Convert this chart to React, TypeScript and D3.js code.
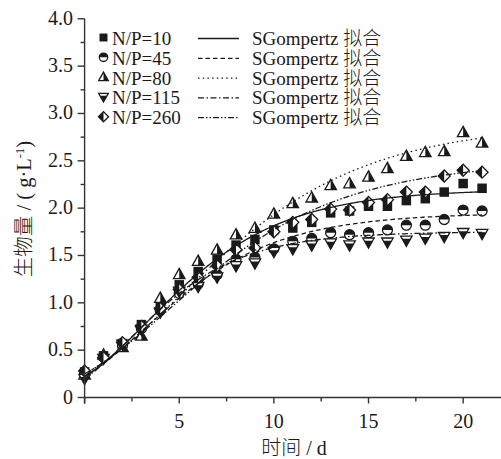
import React from 'react';
import * as d3 from 'd3';

// Sampling days
const days = [0, 1, 2, 3, 4, 5, 6, 7, 8, 9, 10, 11, 12, 13, 14, 15, 16, 17, 18, 19, 20, 21];

// Biomass (g/L) per N/P ratio
const np10 = [0.27, 0.44, 0.57, 0.77, 0.95, 1.19, 1.33, 1.46, 1.61, 1.67, 1.77, 1.79, 1.85, 1.95, 1.97, 2.02, 2.02, 2.08, 2.10, 2.17, 2.26, 2.21];
const np45 = [0.25, 0.43, 0.55, 0.73, 0.92, 1.10, 1.20, 1.30, 1.46, 1.48, 1.57, 1.65, 1.68, 1.74, 1.72, 1.74, 1.77, 1.82, 1.82, 1.88, 1.98, 1.97];
const np80 = [0.24, 0.45, 0.53, 0.65, 1.05, 1.30, 1.44, 1.56, 1.72, 1.79, 1.94, 2.05, 2.11, 2.24, 2.26, 2.33, 2.42, 2.55, 2.59, 2.60, 2.80, 2.69];
const np115 = [0.20, 0.41, 0.56, 0.72, 0.90, 1.12, 1.17, 1.27, 1.39, 1.42, 1.54, 1.57, 1.61, 1.63, 1.61, 1.64, 1.64, 1.66, 1.68, 1.70, 1.74, 1.73];
const np260 = [0.28, 0.42, 0.58, 0.75, 0.94, 1.14, 1.27, 1.39, 1.56, 1.58, 1.75, 1.85, 1.88, 1.99, 1.98, 2.06, 2.09, 2.17, 2.17, 2.34, 2.40, 2.38];

const seriesNames = ['N/P=10', 'N/P=45', 'N/P=80', 'N/P=115', 'N/P=260'];
const seriesValues = [np10, np45, np80, np115, np260];
const markerTypes = ['square', 'circleTop', 'triUp', 'triDown', 'diamond'];
const dashes = ['none', '4.5,3', '1.5,3.2', '6,2.5,1.5,2.5', '6,2,1.5,2,1.5,2'];

// SGompertz fit parameters: y = a * exp(-exp(-k * (x - xc)))
const fitA = [2.2, 1.95, 2.9, 1.75, 2.5];
const fitXc = [3.36, 3.1, 4.99, 2.51, 4.39];
const fitK = [0.248, 0.252, 0.18, 0.308, 0.19];
const fitLabel = 'SGompertz 拟合';

const yTicks = [0, 0.5, 1.0, 1.5, 2.0, 2.5, 3.0, 3.5, 4.0];
const yTickLabels = ['0', '0.5', '1.0', '1.5', '2.0', '2.5', '3.0', '3.5', '4.0'];
const yMinor = [0.25, 0.75, 1.25, 1.75, 2.25, 2.75, 3.25, 3.75];
const xTicks = [0, 5, 10, 15, 20];
const xTickLabels = ['', '5', '10', '15', '20'];
const xMinor = [2.5, 7.5, 12.5, 17.5];

const W = 501;
const H = 459;
const serif = '"Liberation Serif", "Times New Roman", "Noto Sans CJK SC", serif';
const ink = '#1a1a1a';

function Marker({ type, x, y, s }: { type: string; x: number; y: number; s: number }) {
  const sw = 1.3;
  switch (type) {
    case 'square':
      return <rect x={x - s * 0.95} y={y - s * 0.95} width={s * 1.9} height={s * 1.9} fill={ink} />;
    case 'circleTop':
      return (
        <g transform={`translate(${x},${y})`}>
          <circle r={s} fill="#fff" stroke={ink} strokeWidth={sw} />
          <path d={`M${-s},0 A${s},${s} 0 0 1 ${s},0 Z`} fill={ink} />
        </g>
      );
    case 'triUp':
      return (
        <g transform={`translate(${x},${y})`}>
          <polygon points={`0,${-1.2 * s} ${1.15 * s},${0.85 * s} ${-1.15 * s},${0.85 * s}`} fill="#fff" stroke={ink} strokeWidth={sw} strokeLinejoin="miter" />
          <polygon points={`0,${-1.2 * s} ${1.15 * s},${0.85 * s} 0,${0.85 * s}`} fill={ink} />
        </g>
      );
    case 'triDown':
      return (
        <g transform={`translate(${x},${y})`}>
          <polygon points={`${-1.15 * s},${-0.85 * s} ${1.15 * s},${-0.85 * s} 0,${1.2 * s}`} fill="#fff" stroke={ink} strokeWidth={sw} />
          <polygon points={`${-0.85 * s},${-0.3 * s} ${0.85 * s},${-0.3 * s} 0,${1.2 * s}`} fill={ink} />
        </g>
      );
    default:
      return (
        <g transform={`translate(${x},${y})`}>
          <polygon points={`0,${-1.2 * s} ${1.2 * s},0 0,${1.2 * s} ${-1.2 * s},0`} fill="#fff" stroke={ink} strokeWidth={sw} />
          <polygon points={`0,${-1.2 * s} 0,${1.2 * s} ${-1.2 * s},0`} fill={ink} />
        </g>
      );
  }
}

export default function App() {
  const x = d3.scaleLinear().domain([0, 22]).range([84.6, 501]);
  const y = d3.scaleLinear().domain([0, 4]).range([397.5, 18.8]);

  const line = d3
    .line<[number, number]>()
    .x((d) => x(d[0]))
    .y((d) => y(d[1]))
    .curve(d3.curveLinear);

  const curveFor = (i: number) => {
    const pts: [number, number][] = [];
    for (let t = 0; t <= 21.0001; t += 0.1) {
      pts.push([t, fitA[i] * Math.exp(-Math.exp(-fitK[i] * (t - fitXc[i])))]);
    }
    return line(pts) || '';
  };

  const x0 = x(0);
  const y0 = y(0);

  return (
    <svg width={W} height={H} style={{ position: 'absolute', left: 0, top: 0, background: '#fff' }} fontFamily={serif} fontWeight={300}>
      <rect width={W} height={H} fill="#fff" />

      {/* data markers */}
      {seriesValues.map((vals, i) => (
        <g key={'m' + i}>
          {vals.map((v, j) => (
            <Marker key={j} type={markerTypes[i]} x={x(days[j])} y={y(v)} s={5} />
          ))}
        </g>
      ))}

      {/* fitted curves */}
      {seriesValues.map((_, i) => (
        <path key={'c' + i} d={curveFor(i)} fill="none" stroke={ink} strokeWidth={1.3} strokeDasharray={dashes[i]} />
      ))}

      {/* axes */}
      <g stroke="#333" strokeWidth={1.4}>
        <line x1={x0} y1={y0 + 6} x2={x0} y2={y(4)} />
        <line x1={x0} y1={y0} x2={W} y2={y0} />
        {yTicks.map((t) => (
          <line key={'yt' + t} x1={x0 - 7} x2={x0} y1={y(t)} y2={y(t)} />
        ))}
        {yMinor.map((t) => (
          <line key={'ym' + t} x1={x0 - 4} x2={x0} y1={y(t)} y2={y(t)} />
        ))}
        {xTicks.map((t) => (
          <line key={'xt' + t} x1={x(t)} x2={x(t)} y1={y0} y2={y0 + 6} />
        ))}
        {xMinor.map((t) => (
          <line key={'xm' + t} x1={x(t)} x2={x(t)} y1={y0} y2={y0 + 4} />
        ))}
      </g>

      <g fill={ink} fontSize={20}>
        {yTicks.map((t, i) => (
          <text key={'yl' + t} x={73} y={y(t) - 1} textAnchor="end" dominantBaseline="central">
            {yTickLabels[i]}
          </text>
        ))}
        {xTicks.map((t, i) => (
          <text key={'xl' + t} x={x(t)} y={428} textAnchor="middle">
            {xTickLabels[i]}
          </text>
        ))}
        <text x={294} y={455} textAnchor="middle">
          时间 / d
        </text>
        <text transform={`translate(31,209) rotate(-90)`} textAnchor="middle" fontSize={20.5}>
          生物量 / ( g·L<tspan dy={-7} fontSize={12.5}>-1</tspan>
          <tspan dy={7}>)</tspan>
        </text>
      </g>

      {/* legend */}
      <g fill={ink} fontSize={19}>
        {seriesNames.map((name, i) => {
          const ly = 38.5 + i * 19.8;
          return (
            <g key={'lg' + i}>
              <Marker type={markerTypes[i]} x={103.5} y={ly - 1} s={4.2} />
              <text x={112} y={ly} dominantBaseline="central">
                {name}
              </text>
              <line x1={198} x2={239} y1={ly} y2={ly} stroke={ink} strokeWidth={1.3} strokeDasharray={dashes[i]} />
              <text x={252} y={ly} dominantBaseline="central">
                {fitLabel}
              </text>
            </g>
          );
        })}
      </g>
    </svg>
  );
}
